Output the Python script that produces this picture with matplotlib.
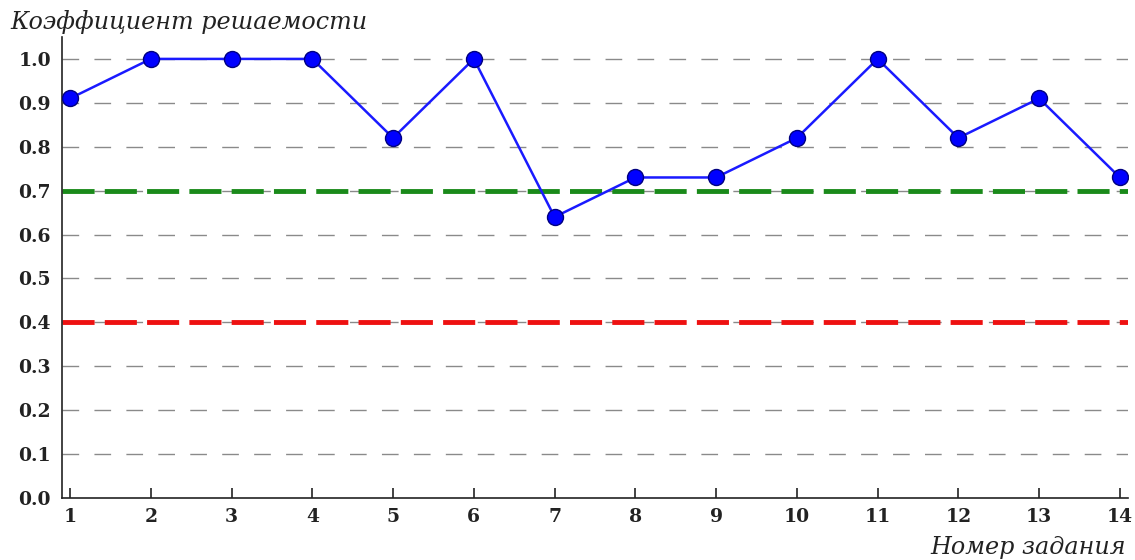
import matplotlib.pyplot as plt
import numpy as np

tasks = list(range(1, 15))
solve_rate = [0.91, 1.0, 1.0, 1.0, 0.82, 1.0, 0.64, 0.73, 0.73, 0.82, 1.0, 0.82, 0.91, 0.73]
upper_level = 0.7
lower_level = 0.4
y_ticks = [0.0, 0.1, 0.2, 0.3, 0.4, 0.5, 0.6, 0.7, 0.8, 0.9, 1.0]

fig = plt.figure(figsize=(11.35, 5.6), dpi=100)
ax = fig.add_axes([0.0546, 0.1107, 0.9392, 0.8233])

# grid lines
for y in y_ticks[1:]:
    ax.axhline(y, color='#8a8a8a', lw=1.0, dashes=(12, 11), zorder=1)

ax.axhline(upper_level, color='#1a8a1a', lw=3.5, dashes=(6.6, 2.1), zorder=2)
ax.axhline(lower_level, color='#ee1111', lw=3.5, dashes=(6.6, 2.1), zorder=2)

ax.plot(tasks, solve_rate, color='#1a1aff', lw=1.8, marker='o', markersize=11.5,
        markerfacecolor='#0000ff', markeredgecolor='#000080', markeredgewidth=1.0, zorder=3)

ax.set_xlim(0.9, 14.1)
ax.set_ylim(0, 1.05)
ax.set_xticks(tasks)
ax.set_yticks(y_ticks)
ax.set_yticklabels([f"{v:.1f}" for v in y_ticks])

for s in ['top', 'right']:
    ax.spines[s].set_visible(False)
for s in ['left', 'bottom']:
    ax.spines[s].set_color('#222222')
    ax.spines[s].set_linewidth(1.2)

ax.tick_params(axis='x', direction='in', length=7, width=1.2, color='#222222', pad=7)
ax.tick_params(axis='y', length=0, pad=8)
for lbl in ax.get_xticklabels() + ax.get_yticklabels():
    lbl.set_fontfamily('DejaVu Serif')
    lbl.set_fontweight('bold')
    lbl.set_fontsize(13.5)
    lbl.set_color('#222222')

fig.text(0.009, 0.96, "Коэффициент решаемости", family='DejaVu Serif', style='italic',
         fontsize=17.2, color='#222222', ha='left', va='center')
fig.text(0.992, 0.022, "Номер задания", family='DejaVu Serif', style='italic',
         fontsize=17.2, color='#222222', ha='right', va='center')

fig.savefig('out.png', dpi=100)
